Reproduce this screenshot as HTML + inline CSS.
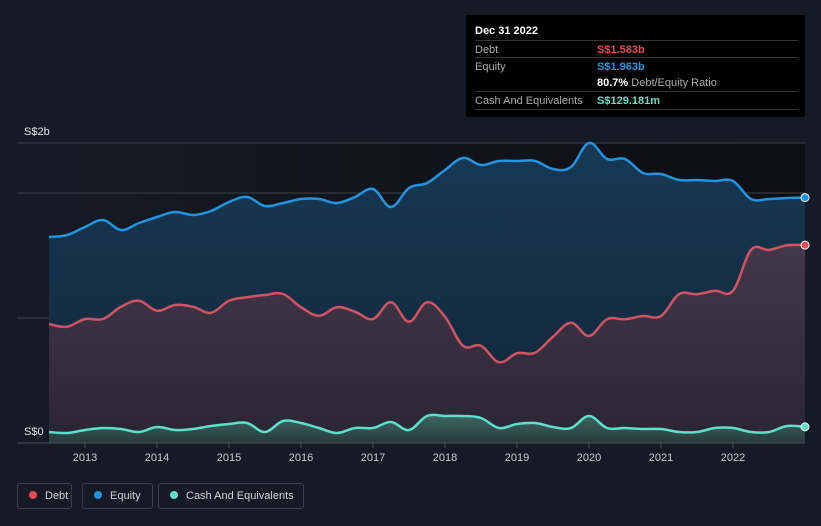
<!DOCTYPE html>
<html><head><meta charset="utf-8"><style>
body{margin:0;background:#151b24;font-family:"Liberation Sans",sans-serif;}
#wrap{position:relative;width:821px;height:526px;overflow:hidden;background:#151b24}
.tt{position:absolute;left:466px;top:15px;width:339px;height:102px;background:#000;color:#fff;font-size:11px}
.row{position:absolute;left:9px;width:323px;height:17px;border-top:1px solid #333;}
.row span{position:absolute;top:3px}
.lg{position:absolute;top:483px;height:26px;border:1px solid #3a404a;border-radius:3px;color:#d0d4da;font-size:11px;box-sizing:border-box;line-height:24px}
.dot{display:inline-block;width:8px;height:8px;border-radius:50%;margin:0 8px 0 11px;vertical-align:-0px}
</style></head><body>
<div id="wrap">
<svg id="chart" width="821" height="526" style="position:absolute;left:0;top:0">
<defs>
<linearGradient id="bgG" x1="0" x2="1" y1="0" y2="0"><stop offset="0" stop-color="#151b24"/><stop offset="1" stop-color="#0c0f14"/></linearGradient>
<linearGradient id="eqG" x1="0" x2="0" y1="0" y2="1"><stop offset="0" stop-color="#173955"/><stop offset="1" stop-color="#112538"/></linearGradient>
<linearGradient id="dbG" x1="0" x2="0" y1="0" y2="1"><stop offset="0" stop-color="#433849"/><stop offset="1" stop-color="#2a2533"/></linearGradient>
<linearGradient id="caG" x1="0" x2="0" y1="0" y2="1"><stop offset="0" stop-color="#3d6660"/><stop offset="1" stop-color="#2a3a3e"/></linearGradient>
</defs>
<rect x="17" y="143" width="788" height="300" fill="url(#bgG)"/>
<g id="grid"></g><g id="areas"></g><g id="lines"></g><g id="axis"></g>
</svg>
<div class="tt">
<div style="position:absolute;left:9px;top:10px;font-weight:bold">Dec 31 2022</div>
<div class="row" style="top:25px"><span style="color:#aaa">Debt</span><span style="left:122px;color:#e64b55;font-weight:bold">S$1.583b</span></div>
<div class="row" style="top:42px"><span style="color:#aaa">Equity</span><span style="left:122px;color:#2394e0;font-weight:bold">S$1.963b</span></div>
<div class="row" style="top:59px;border-top:none"><span style="left:122px;color:#fff"><b>80.7%</b> <span style="position:static;color:#aaa">Debt/Equity Ratio</span></span></div>
<div class="row" style="top:76px;border-bottom:1px solid #333"><span style="color:#aaa">Cash And Equivalents</span><span style="left:122px;color:#5de0c8;font-weight:bold">S$129.181m</span></div>
</div>
<div class="lg" style="left:17px;width:55px"><span class="dot" style="background:#e64b55"></span>Debt</div>
<div class="lg" style="left:82px;width:71px"><span class="dot" style="background:#2394e0"></span>Equity</div>
<div class="lg" style="left:158px;width:146px"><span class="dot" style="background:#5de0c8"></span>Cash And Equivalents</div>
</div>
<script>
const startYear=2012.5, quarterStep=0.25;
const equity=[1.648,1.664,1.728,1.784,1.704,1.76,1.808,1.848,1.824,1.856,1.928,1.968,1.896,1.92,1.952,1.952,1.92,1.968,2.032,1.888,2.04,2.08,2.184,2.28,2.224,2.256,2.256,2.256,2.192,2.208,2.4,2.272,2.272,2.16,2.152,2.104,2.104,2.096,2.096,1.952,1.952,1.96,1.963];
const debt=[0.952,0.93,0.992,0.992,1.09,1.138,1.058,1.104,1.09,1.042,1.138,1.166,1.184,1.192,1.086,1.018,1.086,1.05,0.992,1.126,0.97,1.126,1.01,0.778,0.778,0.646,0.718,0.722,0.85,0.962,0.856,0.99,0.99,1.016,1.016,1.19,1.19,1.218,1.218,1.544,1.544,1.582,1.583];
const cash=[0.088,0.08,0.104,0.12,0.112,0.088,0.128,0.104,0.112,0.136,0.152,0.16,0.088,0.176,0.16,0.12,0.08,0.12,0.12,0.168,0.104,0.216,0.216,0.216,0.2,0.12,0.152,0.16,0.128,0.12,0.216,0.12,0.12,0.112,0.112,0.088,0.088,0.12,0.12,0.088,0.088,0.136,0.129];
const yearTicks=[2013,2014,2015,2016,2017,2018,2019,2020,2021,2022];
const gridVals=[2.4,2,1];
const yLabels=[["S$2b",2.4],["S$0",0]];
const X=t=>85+(t-2013)*72, Y=v=>443-v*125;
const NS="http://www.w3.org/2000/svg";
function mk(tag,attrs,parent){const e=document.createElementNS(NS,tag);for(const k in attrs)e.setAttribute(k,attrs[k]);document.getElementById(parent).appendChild(e);return e;}
function pts(arr){return arr.map((v,i)=>[X(startYear+i*quarterStep),Y(v)]);}
function path(p){let d=`M${p[0][0]},${p[0][1]}`;for(let i=0;i<p.length-1;i++){const p0=p[Math.max(i-1,0)],p1=p[i],p2=p[i+1],p3=p[Math.min(i+2,p.length-1)];const t=0.18;
d+=` C${p1[0]+(p2[0]-p0[0])*t},${p1[1]+(p2[1]-p0[1])*t} ${p2[0]-(p3[0]-p1[0])*t},${p2[1]-(p3[1]-p1[1])*t} ${p2[0]},${p2[1]}`;}return d;}
gridVals.forEach(v=>{const l=mk('line',{x1:17,x2:805,y1:Y(v),y2:Y(v),stroke:'#3a4048','stroke-width':1},'grid');

});
const base=mk('line',{x1:17,x2:805,y1:443,y2:443,stroke:'#4a505a'},'axis');


const series=[[equity,'#2394e0','url(#eqG)','equity'],[debt,'#d05462','url(#dbG)','debt'],[cash,'#5de0c8','url(#caG)','cash']];
const dotCol={equity:'#2394e0',debt:'#e64b55',cash:'#5de0c8'};
series.forEach(([arr,col,fill,nm])=>{const p=pts(arr);const d=path(p);
const a=mk('path',{d:d+` L${p[p.length-1][0]},443 L${p[0][0]},443 Z`,fill:fill},'areas');


const l=mk('path',{d:d,fill:'none',stroke:col,'stroke-width':2.5},'lines');


const last=p[p.length-1];const c=mk('circle',{cx:last[0],cy:last[1],r:4,fill:dotCol[nm],stroke:'#fff','stroke-width':1},'lines');

});
yearTicks.forEach(y=>{const t=mk('line',{x1:X(y),x2:X(y),y1:443,y2:448,stroke:'#4a505a'},'axis');


const tx=mk('text',{x:X(y),y:461,fill:'#c8ccd2','font-size':11,'text-anchor':'middle'},'axis');tx.textContent=y;

});
yLabels.forEach(([s,v])=>{const tx=mk('text',{x:24,y:v>0?Y(v)-8:Y(v)-8,fill:'#e0e3e8','font-size':11},'axis');tx.textContent=s;

});
</script>
</body></html>
